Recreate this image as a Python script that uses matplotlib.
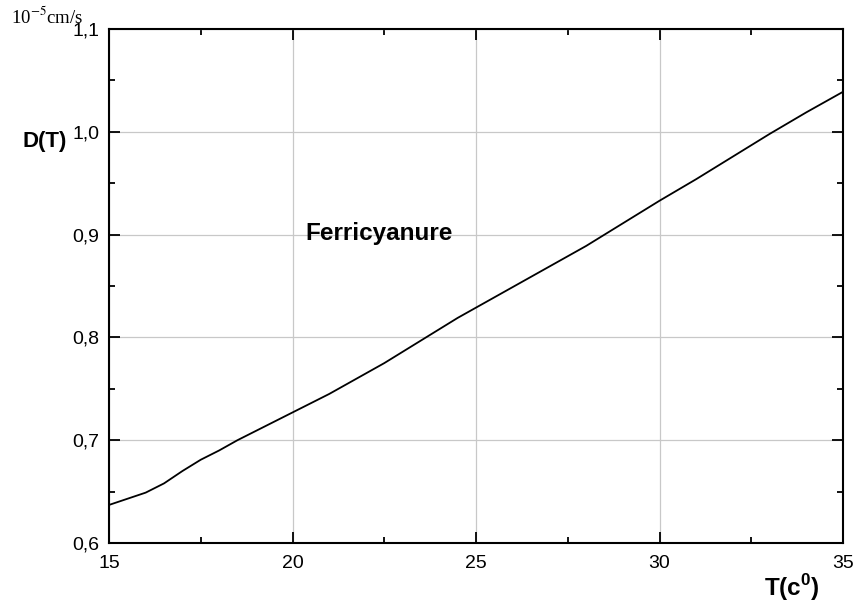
import matplotlib
matplotlib.use("Agg")
import matplotlib.pyplot as plt
from matplotlib.ticker import MultipleLocator, FixedLocator, FixedFormatter

plt.rcParams['mathtext.fontset'] = 'custom'
plt.rcParams['mathtext.rm'] = 'Liberation Sans'
plt.rcParams['mathtext.bf'] = 'Liberation Sans:bold'

# Diffusion coefficient of ferricyanide vs temperature (1e-5 cm^2/s)
temperature = [15, 16, 16.5, 17, 17.5, 18, 18.5, 19, 19.5, 20, 20.5, 21, 21.5,
               22, 22.5, 23, 23.5, 24, 24.5, 25, 26, 27, 28, 29, 30, 31, 32,
               33, 34, 35]
diffusion = [0.637, 0.649, 0.658, 0.670, 0.681, 0.690, 0.700, 0.709, 0.718,
             0.727, 0.736, 0.745, 0.755, 0.765, 0.775, 0.786, 0.797, 0.808,
             0.819, 0.829, 0.849, 0.869, 0.889, 0.911, 0.933, 0.954, 0.976,
             0.998, 1.019, 1.039]

x_ticks = [15, 20, 25, 30, 35]
x_tick_labels = ["15", "20", "25", "30", "35"]
y_ticks = [0.6, 0.7, 0.8, 0.9, 1.0, 1.1]
y_tick_labels = ["0,6", "0,7", "0,8", "0,9", "1,0", "1,1"]

fig = plt.figure(figsize=(8.57, 6.06), dpi=100)
ax = fig.add_axes([0.1272, 0.104, 0.8565, 0.848])

ax.plot(temperature, diffusion, color='black', linewidth=1.3, zorder=3)

ax.set_xlim(15, 35)
ax.set_ylim(0.6, 1.1)
ax.xaxis.set_major_locator(FixedLocator(x_ticks))
ax.xaxis.set_major_formatter(FixedFormatter(x_tick_labels))
ax.yaxis.set_major_locator(FixedLocator(y_ticks))
ax.yaxis.set_major_formatter(FixedFormatter(y_tick_labels))
ax.xaxis.set_minor_locator(MultipleLocator(2.5))
ax.yaxis.set_minor_locator(MultipleLocator(0.05))

ax.grid(True, which='major', color='#c8c8c8', linewidth=0.9, zorder=0)
ax.set_axisbelow(True)

for s in ax.spines.values():
    s.set_linewidth(1.5)
    s.set_color('black')

ax.tick_params(which='both', direction='in', top=True, right=True,
               colors='black', width=1.3)
ax.tick_params(which='major', length=8, labelsize=14)
ax.tick_params(axis='x', which='major', pad=9)
ax.tick_params(axis='y', which='major', pad=7)
ax.tick_params(which='minor', length=4)
for lab in ax.get_xticklabels() + ax.get_yticklabels():
    lab.set_fontfamily('Liberation Sans')

ax.text(0.267, 0.603, "Ferricyanure", transform=ax.transAxes,
        fontsize=17.5, fontweight='bold', family='Liberation Sans',
        ha='left', va='center')

fig.text(0.026, 0.767, "D(T)", fontsize=16, fontweight='bold',
         family='Liberation Sans', ha='left', va='center')
fig.text(0.924, 0.030, r"T(c$^{\mathbf{0}}$)", fontsize=17.5, fontweight='bold',
         family='Liberation Sans', ha='center', va='center')
fig.text(0.013, 0.972, r"10$^{-5}$cm/s", fontsize=13.5,
         family='Liberation Serif', math_fontfamily='stix',
         ha='left', va='center')

fig.savefig("out.png", dpi=100)
